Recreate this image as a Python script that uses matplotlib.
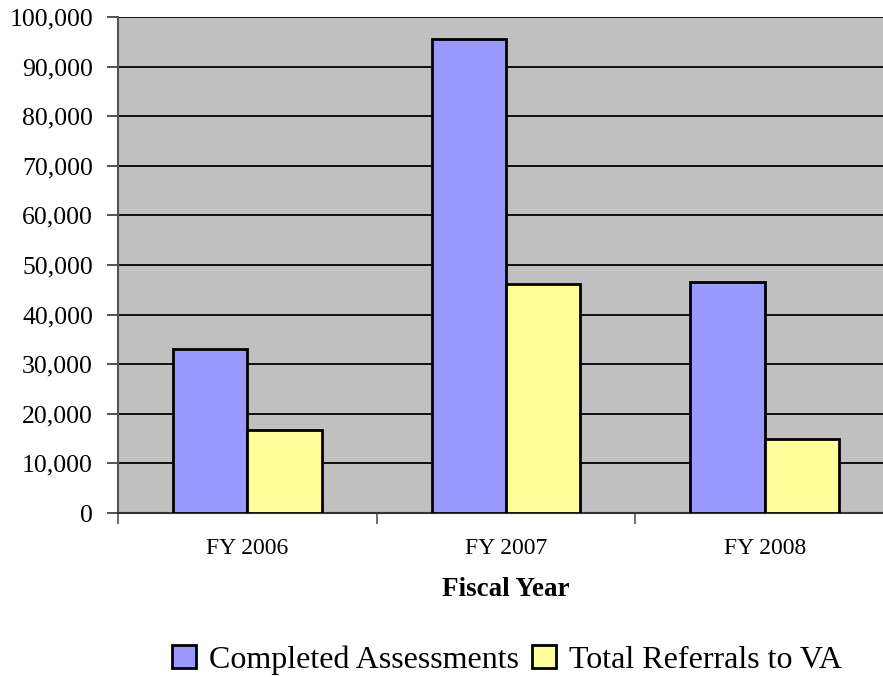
import matplotlib.pyplot as plt
import matplotlib.ticker as mticker
import numpy as np

categories = ['FY 2006', 'FY 2007', 'FY 2008']
completed = [33100, 95600, 46600]
referrals = [16800, 46200, 14900]
series_names = ['Completed Assessments', 'Total Referrals to VA']

plt.rcParams['font.family'] = ['Liberation Serif', 'DejaVu Serif']

fig = plt.figure(figsize=(8.83, 6.77), dpi=100)
# axes runs slightly past the right edge, as in the original
ax = fig.add_axes([118 / 883, 1 - 513 / 677, (894 - 118) / 883, (513 - 17) / 677])
ax.set_facecolor('#C0C0C0')

x = np.arange(len(categories))
w = 0.288
ax.bar(x - w / 2, completed, w, color='#9999FF', edgecolor='black', linewidth=2,
       label=series_names[0], zorder=3)
ax.bar(x + w / 2, referrals, w, color='#FFFF99', edgecolor='black', linewidth=2,
       label=series_names[1], zorder=3)

ax.set_xlim(-0.5, 2.5)
ax.set_ylim(0, 100000)
ax.yaxis.set_major_locator(mticker.MultipleLocator(10000))
ax.yaxis.set_major_formatter(mticker.FuncFormatter(lambda v, p: f'{int(v):,}'))
ax.yaxis.grid(True, color='black', linewidth=1.3, zorder=1)
ax.set_axisbelow(True)

ax.set_xticks(x)
ax.set_xticklabels(categories, fontsize=17)
ax.tick_params(axis='x', length=0, pad=18)
ax.set_xticks([-0.5, 0.5, 1.5, 2.5], minor=True)
ax.tick_params(axis='x', which='minor', length=8, width=1.2, color='#555555')
ax.tick_params(axis='y', labelsize=18.5, length=8, width=1.2, color='#333333', pad=10)

for s in ['top', 'right']:
    ax.spines[s].set_visible(False)
ax.spines['left'].set_color('#555555')
ax.spines['left'].set_linewidth(1.5)
ax.spines['bottom'].set_color('#333333')
ax.spines['bottom'].set_linewidth(1.5)

ax.set_xlabel('Fiscal Year', fontsize=19.5, fontweight='bold', labelpad=13)

fig.legend(loc='center', bbox_to_anchor=(507 / 883, 1 - 660 / 677), ncol=2,
           frameon=False, fontsize=23, handlelength=0.75, handleheight=0.75,
           handletextpad=0.4, columnspacing=0.4)

fig.savefig('out.png', dpi=100)
